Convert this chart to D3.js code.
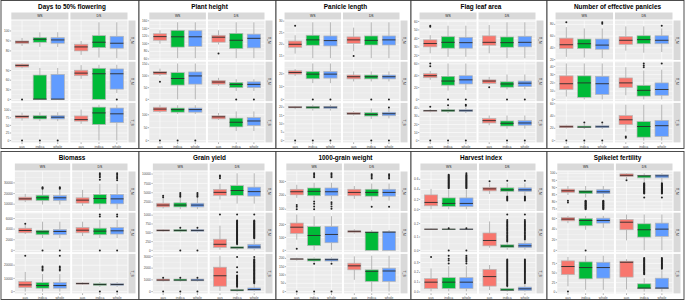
<!DOCTYPE html>
<html>
<head>
<meta charset="utf-8">
<script src="https://cdn.jsdelivr.net/npm/d3@7"></script>
<style>
  body { margin: 0; background: #fff; }
  svg { display: block; font-family: "Liberation Sans", Arial, sans-serif; }
</style>
</head>
<body>
<div id="chart"></div>
<script>
// Boxplot stats per trait: rows (envs) x seasons (WS, DS) x groups (aus, indica, whole)
// each box = [lower whisker, q1, median, q3, upper whisker, outliers]
const groups = ["aus", "indica", "whole"];
const seasons = ["WS", "DS"];
const envLabels = ["T_N", "T_M", "T_S"];
const titles = ["Days to 50% flowering", "Plant height", "Panicle length", "Flag leaf area",
  "Number of effective panicles", "Biomass", "Grain yield", "1000-grain weight",
  "Harvest index", "Spikelet fertility"];

const flowering = [
  [[[85, 87.5, 89, 90, 93, []], [84, 88.7, 91.7, 93.3, 98.7, []], [84, 87.7, 91, 93.3, 98.7, []]],
   [[76, 80, 84, 86.7, 90, []], [73.3, 83.3, 88.7, 95.3, 108.7, []], [72.7, 82.7, 87.7, 94.7, 108.7, []]]],
  [[[97, 101, 106, 110, 112, [0]], [0, 0, 1, 76, 98, []], [0, 0, 1, 78, 98, []]],
   [[64, 74, 82, 91, 107, []], [0, 0, 80, 97, 108, []], [20, 32, 80, 95, 108, [0]]]],
  [[[66, 74, 79, 83, 92, [0]], [64, 71, 77, 82, 93, [0]], [64, 71, 77, 82, 93, [0]]],
   [[55, 64, 69, 81, 102, []], [0, 53, 91, 110, 118, []], [0, 59, 88, 107, 118, []]]]
];
const floweringTicks = [[80, 90, 100], [0, 30, 60, 90], [0, 25, 50, 75, 100]];

const plantHeight = [
  [[[100, 109, 118.5, 126, 135, []], [62, 91, 118, 135, 156, []], [62, 93, 118, 134, 156, []]],
   [[98, 104, 117, 122, 135, [74]], [62, 87, 109, 127, 156, []], [62, 89, 114, 125, 156, []]]],
  [[[100, 106, 114, 119, 131, [75]], [0, 61, 89, 114, 153, []], [0, 65, 100, 117, 153, []]],
   [[58, 65, 74, 81, 92, []], [36, 50, 64, 72, 86, [0]], [36, 50, 64, 75, 86, [0]]]],
  [[[108, 113, 122, 129, 139, [0]], [103, 110, 120, 126, 137, [0]], [103, 110, 120, 126, 137, [0]]],
   [[80, 84, 92, 96, 107, []], [37, 53, 71, 87, 113, []], [37, 58, 76, 89, 113, []]]]
];
const plantHeightTicks = [[60, 80, 100, 120, 140, 160], [0, 50, 100, 150], [0, 50, 100]];

const panicleLength = [
  [[[16, 18.7, 20, 21.4, 23.9, [28]], [14, 19.6, 21.9, 23.9, 29.5, []], [14, 19.3, 21.6, 23.6, 29.5, []]],
   [[17, 20.4, 21.9, 23.2, 27.2, [15]], [14, 19.7, 21.7, 23.6, 29.5, []], [14, 19.7, 21.9, 23.6, 29.5, []]]],
  [[[18.2, 19.7, 21, 22.3, 23.6, []], [12.7, 16.1, 19.7, 21.8, 28, [0]], [12.7, 16.6, 19.7, 21.8, 28, [0]]],
   [[14, 16, 17.7, 19, 21.8, []], [14, 16, 17.7, 19, 21.8, [0]], [14, 16, 17.7, 19, 21.8, [0]]]],
  [[[18.8, 19.6, 20, 20.4, 20.8, [0]], [18, 19.2, 20, 20.4, 21.5, [0]], [18, 19.2, 20, 20.4, 21.5, [0]]],
   [[15, 15.7, 16.1, 16.9, 17.6, []], [13, 14.7, 15.7, 16.7, 19.2, [0]], [13.3, 14.9, 16.1, 17, 19.2, [19.8, 0]]]]
];
const panicleTicks = [[15, 20, 25, 30], [0, 10, 20], [0, 5, 10, 15, 20]];

const flagLeaf = [
  [[[22.5, 30, 34, 38.3, 43.8, [55, 53.7]], [18.3, 28.5, 35.4, 42, 55, []], [18.3, 28.5, 35, 41.3, 55, []]],
   [[22.5, 32, 35.4, 43, 55.8, []], [16.7, 29.6, 35, 41.7, 59, []], [16.7, 30, 35.4, 42.5, 59, []]]],
  [[[33, 36.6, 40, 43.4, 48, [60.6, 56]], [15, 24, 31, 39, 60.6, [0]], [16, 26, 33, 40, 60.6, [0]]],
   [[25, 27, 31, 33, 38, [20.6]], [17, 20.6, 26, 29.7, 42, [0]], [17, 21.7, 27.4, 31, 42, [0]]]],
  [[[35, 36.2, 37, 37.5, 39, [42, 0]], [34, 35.8, 37, 38.3, 41, [43.6, 0]], [34, 35.8, 37, 38.3, 41, [44.4, 43, 0]]],
   [[19, 21.8, 24.7, 27.4, 31, []], [14.8, 18, 21.4, 24.3, 31, [0]], [14.8, 19, 21.8, 24.7, 31, [0]]]]
];
const flagLeafTicks = [[20, 30, 40, 50, 60], [0, 20, 40, 60], [0, 10, 20, 30, 40]];

const panicles = [
  [[[24.7, 38.8, 45.3, 56.5, 75.3, [83.5]], [23.5, 38.8, 47, 55, 73, []], [22.4, 37.6, 44.7, 55, 73, [83.5, 81]]],
   [[35.3, 46, 52.9, 59, 76.5, []], [31.8, 47, 54, 60.6, 76.5, []], [33, 47, 52.9, 60.6, 73, [77.6]]]],
  [[[3.5, 12, 19, 28.5, 43.5, []], [0, 2.5, 20, 28.5, 43.5, []], [0, 6, 19, 28, 43.5, []]],
   [[5, 14.5, 20, 26, 39, []], [0, 4, 11, 17, 35, [43.5, 41, 39]], [0, 5, 12, 20, 36, [43.5]]]],
  [[[19.8, 21, 22.6, 24.3, 26, [0]], [19, 21, 22, 23.7, 27, [29.4, 0]], [19, 21, 22.6, 24.3, 27, [29.4, 0]]],
   [[14.7, 26, 33.9, 40.7, 58.5, [6.8, 4.5]], [0, 5.6, 23, 31, 58.5, []], [0, 6.8, 24.3, 32.8, 58.5, []]]]
];
const paniclesTicks = [[20, 40, 60, 80], [0, 10, 20, 30, 40, 50], [0, 20, 40, 60]];

const biomass = [
  [[[12000, 13800, 15000, 16600, 19700, []], [9700, 13400, 16000, 18400, 23500, [26000, 25200, 24500]], [9700, 13400, 16000, 18100, 23500, [26000, 25200, 24500]]],
   [[8400, 11000, 13800, 16000, 23400, []], [5300, 10300, 15300, 19100, 29100, [39000, 37800, 36500, 35300, 33000]], [5300, 10300, 15000, 19100, 29100, [39000, 37800, 36500, 35300, 34000, 32500]]]],
  [[[3070, 3310, 3740, 4170, 4900, [5030]], [2330, 2950, 3500, 3800, 5400, [0]], [2330, 2950, 3560, 3930, 5400, [0]]],
   [[2700, 3310, 3800, 4300, 5400, []], [2330, 2950, 3620, 4170, 5770, [6750, 6380, 0]], [2330, 3070, 3680, 4300, 5770, [6750, 6380, 0]]]],
  [[[0, 3100, 5100, 7700, 14900, [27200]], [0, 2600, 4600, 6900, 13300, [19000, 18000, 17000, 16000]], [0, 2600, 4600, 6900, 13300, [27200, 19000, 18000, 17000, 16000]]],
   [[5100, 5600, 6100, 6600, 7200, []], [3600, 4600, 5400, 6100, 7200, [0]], [3600, 4600, 5400, 6100, 7200, [0]]]]
];
const biomassTicks = [[10000, 20000, 30000], [0, 2000, 4000, 6000], [0, 10000, 20000]];

const grainYield = [
  [[[800, 1200, 1700, 2200, 3700, [4200, 3800]], [600, 1200, 1700, 2300, 3700, [4900, 4600, 4200, 3900]], [600, 1200, 1700, 2200, 3700, [4900, 4600, 4200, 3900]]],
   [[3200, 4300, 5100, 5900, 7400, [9600, 9300, 8900]], [2100, 4300, 5600, 6900, 10200, []], [2100, 4100, 5300, 6500, 10200, []]]],
  [[[529, 548, 567, 587, 606, []], [510, 538, 567, 596, 625, [644, 0]], [510, 538, 567, 596, 625, [644, 0]]],
   [[19, 87, 173, 317, 702, [1019]],
    [10, 58, 77, 106, 173, [1019, 846, 828, 810, 792, 774, 756, 738, 720, 702, 684, 666, 648, 630, 612, 594, 576, 558, 540, 522, 504, 486, 468, 450, 432, 414, 396, 378, 360, 342, 324, 306, 288, 270, 252, 234, 216, 198, 182]],
    [0, 48, 96, 173, 317, [1019, 846, 828, 810, 792, 774, 756, 738, 720, 702, 684, 666, 648, 630, 612, 594, 576, 558, 540, 522, 504, 486, 468, 450, 432, 414, 396, 378, 360, 342]]]],
  [[[860, 920, 980, 1070, 1130, [1190, 0]], [860, 920, 980, 1070, 1130, [1190, 0]], [860, 920, 980, 1070, 1130, [1190, 0]]],
   [[60, 460, 1350, 2080, 3060, []],
    [0, 60, 120, 180, 370, [2940, 2080, 1650, 1380, 1320, 1260, 1200, 1140, 1080, 1020, 960, 900, 840, 780, 720, 660, 600, 540, 480, 420]],
    [0, 90, 180, 310, 670, [2940, 2750, 2690, 2630, 2570, 2510, 2450, 2390, 2330, 2270, 2210, 2150, 2090, 2030, 1970, 1910, 1850, 1790, 1730, 1670, 1610, 1550, 1490, 1430, 1370, 1310, 1250, 1190, 1130, 1070, 1010, 950, 890, 830, 770, 710]]]]
];
const grainYieldTicks = [[2500, 5000, 7500, 10000], [0, 250, 500, 750, 1000], [0, 1000, 2000, 3000]];

const grainWeight = [
  [[[182, 203, 226, 244, 276, [130, 118, 100]], [168, 197, 229, 253, 291, [359, 350, 340, 330, 155, 140, 120, 100]], [168, 197, 226, 253, 291, [359, 350, 340, 330, 150, 138, 120, 104]]],
   [[174, 197, 221, 244, 267, []], [162, 194, 221, 244, 285, [353, 343, 333, 322, 118]], [162, 194, 221, 244, 285, [353, 343, 333, 322, 118]]]],
  [[[83, 131, 179, 211, 277, [13]], [0, 37, 115, 184, 264, []], [0, 59, 123, 184, 264, []]],
   [[131, 139, 147, 152, 163, []], [0, 0, 139, 143, 157, []], [0, 0, 141, 144, 157, []]]],
  [[[186, 192, 196, 198, 204, [0]], [176, 184, 192, 198, 206, [167, 0]], [176, 184, 192, 198, 206, [167, 0]]],
   [[71, 131, 155, 171, 212, []], [0, 61, 122, 131, 216, []], [0, 61, 124, 141, 216, []]]]
];
const grainWeightTicks = [[100, 200, 300], [0, 100, 200], [0, 50, 100, 150, 200]];

const harvestIndex = [
  [[[0.005, 0.073, 0.14, 0.29, 0.41, []],
    [0.005, 0.06, 0.12, 0.23, 0.39, [0.69, 0.675, 0.66, 0.645, 0.63, 0.615, 0.6, 0.585, 0.57, 0.555, 0.54, 0.525, 0.51, 0.495, 0.48, 0.465, 0.45, 0.435, 0.42]],
    [0.005, 0.06, 0.12, 0.23, 0.39, [0.72, 0.69, 0.675, 0.66, 0.645, 0.63, 0.615, 0.6, 0.585, 0.57, 0.555, 0.54, 0.525, 0.51, 0.495, 0.48, 0.465, 0.45, 0.435, 0.42]]],
   [[0.31, 0.37, 0.41, 0.44, 0.52, [0.56]], [0.29, 0.36, 0.39, 0.43, 0.52, [0.57, 0.26, 0.24, 0.22, 0.2, 0.18]], [0.29, 0.36, 0.39, 0.43, 0.52, [0.57, 0.26, 0.24, 0.22, 0.2, 0.18]]]],
  [[[0.152, 0.155, 0.158, 0.16, 0.163, []], [0.152, 0.155, 0.158, 0.16, 0.163, [0.166, 0]], [0.152, 0.155, 0.158, 0.16, 0.163, [0.166, 0]]],
   [[0.02, 0.034, 0.074, 0.13, 0.216, []],
    [0.005, 0.021, 0.032, 0.042, 0.058, [0.268, 0.226, 0.218, 0.21, 0.202, 0.194, 0.186, 0.178, 0.17, 0.162, 0.154, 0.146, 0.138, 0.13, 0.122, 0.114, 0.106, 0.098, 0.09, 0.082, 0.074, 0.066]],
    [0.005, 0.021, 0.034, 0.053, 0.07, [0.268, 0.226, 0.218, 0.21, 0.202, 0.194, 0.186, 0.178, 0.17, 0.162, 0.154, 0.146, 0.138, 0.13, 0.122, 0.114, 0.106, 0.098, 0.09, 0.082]]]],
  [[[0.007, 0.036, 0.1, 0.136, 0.24, [0.357]], [0.007, 0.036, 0.1, 0.146, 0.264, [0.37, 0.34, 0.32, 0.29]], [0.007, 0.036, 0.1, 0.146, 0.264, [0.37, 0.355, 0.34, 0.325, 0.31, 0.29]]],
   [[0.02, 0.06, 0.157, 0.23, 0.275, []],
    [0.004, 0.014, 0.02, 0.036, 0.05, [0.33, 0.32, 0.31, 0.3, 0.29, 0.28, 0.27, 0.26, 0.25, 0.24, 0.23, 0.22, 0.21, 0.2, 0.19, 0.18, 0.17, 0.16, 0.15, 0.14, 0.13, 0.12, 0.11, 0.1, 0.09, 0.08, 0.07, 0.06]],
    [0.004, 0.014, 0.032, 0.05, 0.079, [0.33, 0.32, 0.31, 0.3, 0.29, 0.28, 0.27, 0.26, 0.25, 0.24, 0.23, 0.22, 0.21, 0.2, 0.19, 0.18, 0.17, 0.16, 0.15, 0.14, 0.13, 0.12, 0.11, 0.1, 0.09]]]]
];
const harvestIndexTicks = [[0, 0.2, 0.4, 0.6], [0, 0.1, 0.2], [0, 0.1, 0.2, 0.3]];

const spikeletFertility = [
  [[[84.8, 86.6, 87.7, 88.9, 91.1, [80.7, 79.5]],
    [83, 85.7, 87, 88, 91.1, [80.8, 80.4, 80, 79.6, 79.2, 78.8, 78.4, 78, 77.6, 77.2, 76.8, 76.4, 76, 75.6, 75.2, 74.8]],
    [83, 85.7, 87, 88.5, 91.1, [80.8, 80.4, 80, 79.6, 79.2, 78.8, 78.4, 78, 77.6, 77.2, 76.8, 76.4, 76, 75.6, 75.2, 74.8]]],
   [[96, 97.7, 98.6, 99.6, 100, [95.2]],
    [93.9, 96.8, 98.2, 98.6, 100, [93, 92.6, 92.2, 91.8, 91.4, 91, 90.6, 90.2, 89.8, 89.4, 89, 88.6, 88.2, 87.8, 87.4, 87, 86.6, 86.2, 85.8, 83]],
    [93.9, 96.8, 98.2, 99, 100, [93, 92.6, 92.2, 91.8, 91.4, 91, 90.6, 90.2, 89.8, 89.4, 89, 88.6, 88.2, 87.8, 87.4, 87, 86.6, 86.2, 85.8, 83]]]],
  [[[51.3, 55.6, 58.8, 61.9, 65, []], [38.8, 46.3, 56.3, 60, 65, [0]], [42.5, 51.3, 56.3, 60.6, 65, []]],
   [[18.8, 38.8, 53, 58, 67.5, []], [0, 25, 38.8, 50, 67.5, []], [0, 26.3, 40, 51.3, 67.5, []]]],
  [[[15.6, 45.9, 66.9, 81.6, 91.7, [1.8]], [6.4, 34.9, 64.2, 78.9, 95, []], [6.4, 36.7, 64.2, 78, 95, []]],
   [[7.3, 39.4, 78, 80.7, 86, []],
    [1.8, 9.2, 11, 22, 36.7, [89, 87, 85, 83, 81, 79, 77, 75, 73, 71, 69, 67, 65, 63, 61, 59, 57, 55, 53, 51, 49, 47]],
    [1.8, 9.2, 11, 36.7, 56.9, [89, 87, 85, 83, 81, 79, 77, 75, 73, 71, 69, 67, 65, 63, 61]]]]
];
const spikeletTicks = [[75, 80, 85, 90, 95, 100], [0, 20, 40, 60], [0, 25, 50, 75]];

const boxData = [flowering, plantHeight, panicleLength, flagLeaf, panicles,
  biomass, grainYield, grainWeight, harvestIndex, spikeletFertility];
const tickData = [floweringTicks, plantHeightTicks, panicleTicks, flagLeafTicks, paniclesTicks,
  biomassTicks, grainYieldTicks, grainWeightTicks, harvestIndexTicks, spikeletTicks];
const tickFormats = ["", "", "", "", "", "", "", "", ".1f", ""];

// Layout
const W = 685, H = 302;
const panelEdges = [1, 139, 276, 411, 547, 684];
const panelTops = [0.5, 151.5];
const panelH = 148;
const firstRow = 20, rowH = 39.5, rowGap = 1.7;
const stripTop = 12, stripH = 7, stripW = 7, facetGap = 2;

const color = d3.scaleOrdinal().domain(groups).range(["#F8766D", "#00BA38", "#619CFF"]);

const svg = d3.select("#chart").append("svg")
  .attr("width", W)
  .attr("height", H);

// helper to measure tick label widths
const measure = svg.append("text").attr("font-size", 3.2).attr("visibility", "hidden");
function textW(s) {
  measure.text(s);
  return measure.node().getComputedTextLength();
}

titles.forEach((title, i) => {
  const col = i % 5, prow = Math.floor(i / 5);
  const x0 = panelEdges[col], x1 = panelEdges[col + 1], y0 = panelTops[prow];
  const boxes = boxData[i], ticks = tickData[i];
  const fmt = tickFormats[i] ? d3.format(tickFormats[i]) : d => String(d);
  const g = svg.append("g");

  // panel frame
  g.append("rect")
    .attr("x", x0).attr("y", y0)
    .attr("width", x1 - x0).attr("height", panelH)
    .attr("fill", "#fff").attr("stroke", "#3a3a3a").attr("stroke-width", 0.9);

  g.append("text")
    .attr("x", (x0 + x1) / 2 + 2).attr("y", y0 + 8.3)
    .attr("text-anchor", "middle")
    .attr("font-size", 6.4).attr("font-weight", "bold").attr("fill", "#000")
    .text(title);

  const labelW = d3.max(ticks.flat(), t => textW(fmt(t)));
  const fx0 = x0 + 5 + labelW;
  const stripX = x1 - 3.5 - stripW;
  const facetW = (stripX - 1 - fx0 - facetGap) / 2;
  const facetX = seasons.map((s, k) => fx0 + k * (facetW + facetGap));

  const rowY = boxes.map((_, r) => y0 + firstRow + r * (rowH + rowGap));
  const yScales = boxes.map((row, r) => {
    const vals = row.flat().flatMap(b => [b[0], b[4], ...b[5]]);
    const [lo, hi] = d3.extent(vals);
    const pad = (hi - lo) * 0.05;
    return d3.scaleLinear().domain([lo - pad, hi + pad]).range([rowY[r] + rowH, rowY[r]]);
  });

  // column strips
  seasons.forEach((s, k) => {
    g.append("rect")
      .attr("x", facetX[k]).attr("y", y0 + stripTop)
      .attr("width", facetW).attr("height", stripH)
      .attr("fill", "#D9D9D9");
    g.append("text")
      .attr("x", facetX[k] + facetW / 2).attr("y", y0 + stripTop + stripH / 2)
      .attr("dy", "0.35em").attr("text-anchor", "middle")
      .attr("font-size", 3.4).attr("fill", "#1A1A1A")
      .text(s);
  });

  boxes.forEach((row, r) => {
    const y = yScales[r];
    const [dLo, dHi] = y.domain();
    const tks = ticks[r].filter(t => t >= dLo && t <= dHi);
    const step = ticks[r][1] - ticks[r][0];
    const minors = d3.range(ticks[r][0] - step / 2, dHi, step).filter(t => t >= dLo && t <= dHi);

    // row strip on the right
    g.append("rect")
      .attr("x", stripX).attr("y", rowY[r])
      .attr("width", stripW).attr("height", rowH)
      .attr("fill", "#D9D9D9");
    g.append("text")
      .attr("transform", `translate(${stripX + stripW / 2},${rowY[r] + rowH / 2}) rotate(90)`)
      .attr("dy", "0.35em").attr("text-anchor", "middle")
      .attr("font-size", 3.4).attr("fill", "#1A1A1A")
      .text(envLabels[r]);

    // y axis labels
    const ax = g.append("g");
    tks.forEach(t => {
      ax.append("line")
        .attr("x1", fx0 - 1.5).attr("x2", fx0)
        .attr("y1", y(t)).attr("y2", y(t))
        .attr("stroke", "#333").attr("stroke-width", 0.4);
      ax.append("text")
        .attr("x", fx0 - 2).attr("y", y(t)).attr("dy", "0.35em")
        .attr("text-anchor", "end").attr("font-size", 3.2).attr("fill", "#4D4D4D")
        .text(fmt(t));
    });

    seasons.forEach((s, k) => {
      const fx = facetX[k];
      const xs = d3.scalePoint().domain(groups).range([fx, fx + facetW]).padding(0.6);
      const bw = xs.step() * 0.75;
      const cell = g.append("g");

      cell.append("rect")
        .attr("x", fx).attr("y", rowY[r])
        .attr("width", facetW).attr("height", rowH)
        .attr("fill", "#EBEBEB");
      cell.selectAll(".minor").data(minors).join("line")
        .attr("x1", fx).attr("x2", fx + facetW)
        .attr("y1", d => y(d)).attr("y2", d => y(d))
        .attr("stroke", "#fff").attr("stroke-width", 0.3);
      cell.selectAll(".major").data(tks).join("line")
        .attr("x1", fx).attr("x2", fx + facetW)
        .attr("y1", d => y(d)).attr("y2", d => y(d))
        .attr("stroke", "#fff").attr("stroke-width", 0.6);
      cell.selectAll(".vgrid").data(groups).join("line")
        .attr("x1", d => xs(d)).attr("x2", d => xs(d))
        .attr("y1", rowY[r]).attr("y2", rowY[r] + rowH)
        .attr("stroke", "#fff").attr("stroke-width", 0.6);

      row[k].forEach((b, gi) => {
        const grp = groups[gi];
        const cx = xs(grp);
        const [lo, q1, med, q3, hi, outs] = b;
        const bg = cell.append("g");
        bg.append("line")
          .attr("x1", cx).attr("x2", cx).attr("y1", y(hi)).attr("y2", y(q3))
          .attr("stroke", "#9a9a9a").attr("stroke-width", 0.7);
        bg.append("line")
          .attr("x1", cx).attr("x2", cx).attr("y1", y(q1)).attr("y2", y(lo))
          .attr("stroke", "#9a9a9a").attr("stroke-width", 0.7);
        bg.append("rect")
          .attr("x", cx - bw / 2).attr("y", y(q3))
          .attr("width", bw).attr("height", Math.max(0.6, y(q1) - y(q3)))
          .attr("fill", color(grp))
          .attr("stroke", "#b5b5b5").attr("stroke-width", 0.7);
        bg.append("line")
          .attr("x1", cx - bw / 2).attr("x2", cx + bw / 2)
          .attr("y1", y(med)).attr("y2", y(med))
          .attr("stroke", "#2b2b2b").attr("stroke-width", 0.9);
        bg.selectAll("circle").data(outs).join("circle")
          .attr("cx", cx).attr("cy", d => y(d)).attr("r", 1)
          .attr("fill", "#222");
      });

      // x axis labels under the last row
      if (r === boxes.length - 1) {
        const base = rowY[r] + rowH;
        groups.forEach(grp => {
          g.append("line")
            .attr("x1", xs(grp)).attr("x2", xs(grp))
            .attr("y1", base).attr("y2", base + 1.5)
            .attr("stroke", "#333").attr("stroke-width", 0.4);
          g.append("text")
            .attr("x", xs(grp)).attr("y", base + 4.2)
            .attr("dy", "0.35em").attr("text-anchor", "middle")
            .attr("font-size", 3.4).attr("fill", "#4D4D4D")
            .text(grp);
        });
      }
    });
  });
});
measure.remove();
</script>
</body>
</html>
